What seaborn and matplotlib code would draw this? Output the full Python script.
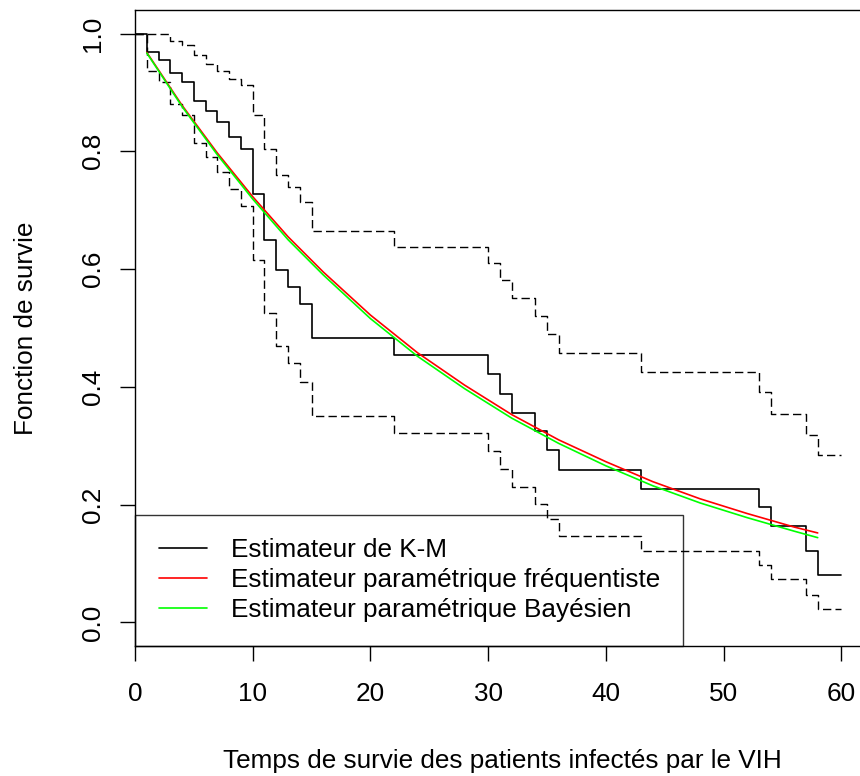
import matplotlib
matplotlib.use("Agg")
import matplotlib.pyplot as plt
from matplotlib.lines import Line2D
import seaborn as sns
import pandas as pd

# ---- data ----
km_time = [0, 1, 2, 3, 4, 5, 6, 7, 8, 9, 10, 11, 12, 13, 14, 15, 22, 30, 31,
           32, 34, 35, 36, 43, 53, 54, 57, 58, 60]
km_surv = [1.0, 0.968, 0.955, 0.933, 0.917, 0.886, 0.869, 0.849, 0.824, 0.804,
           0.728, 0.650, 0.599, 0.569, 0.540, 0.483, 0.454, 0.422, 0.388, 0.356,
           0.325, 0.293, 0.259, 0.226, 0.196, 0.164, 0.121, 0.080, 0.080]
km_upper = [1.0, 1.0, 1.0, 0.987, 0.981, 0.963, 0.949, 0.936, 0.923, 0.912,
            0.861, 0.804, 0.759, 0.739, 0.714, 0.665, 0.638, 0.610, 0.581, 0.551,
            0.520, 0.489, 0.457, 0.425, 0.391, 0.354, 0.319, 0.285, 0.285]
km_lower = [1.0, 0.937, 0.917, 0.880, 0.861, 0.815, 0.790, 0.765, 0.736, 0.708,
            0.616, 0.526, 0.469, 0.440, 0.409, 0.350, 0.321, 0.291, 0.261, 0.230,
            0.201, 0.176, 0.146, 0.121, 0.097, 0.074, 0.046, 0.023, 0.023]

par_time = [1, 4, 7, 10, 13, 16, 20, 24, 28, 32, 36, 40, 44, 48, 52, 56, 58]
freq_surv = [0.968, 0.878, 0.797, 0.723, 0.655, 0.595, 0.522, 0.458, 0.403,
             0.353, 0.310, 0.273, 0.239, 0.210, 0.185, 0.162, 0.152]
bayes_surv = [0.967, 0.876, 0.794, 0.719, 0.650, 0.590, 0.516, 0.452, 0.397,
              0.347, 0.304, 0.266, 0.232, 0.203, 0.178, 0.155, 0.144]

legend_labels = ["Estimateur de K-M",
                 "Estimateur paramétrique fréquentiste",
                 "Estimateur paramétrique Bayésien"]
x_ticks = [0, 10, 20, 30, 40, 50, 60]
y_ticks = [0.0, 0.2, 0.4, 0.6, 0.8, 1.0]
y_ticklabels = ["0.0", "0.2", "0.4", "0.6", "0.8", "1.0"]
xlabel = "Temps de survie des patients infectés par le VIH"
ylabel = "Fonction de survie"

km_df = pd.DataFrame({"t": km_time, "S": km_surv, "up": km_upper, "lo": km_lower})
par_df = pd.DataFrame({"t": par_time, "freq": freq_surv, "bayes": bayes_surv})

# ---- style ----
sns.set_theme(style="ticks")
plt.rcParams["font.family"] = ["Liberation Sans", "DejaVu Sans"]
plt.rcParams["text.color"] = "black"
plt.rcParams["axes.labelcolor"] = "black"
FS = 18.8

fig = plt.figure(figsize=(8.6, 7.76), dpi=100)
fig.patch.set_facecolor("white")
ax = fig.add_axes([135 / 860, 130 / 776, 734.5 / 860, 636 / 776])
ax.set_facecolor("white")

lw = 1.2
sns.lineplot(data=km_df, x="t", y="up", ax=ax, color="black", lw=1.0,
             drawstyle="steps-post", estimator=None, linestyle=(0, (6, 3)))
sns.lineplot(data=km_df, x="t", y="lo", ax=ax, color="black", lw=1.0,
             drawstyle="steps-post", estimator=None, linestyle=(0, (6, 3)))
sns.lineplot(data=km_df, x="t", y="S", ax=ax, color="black", lw=lw,
             drawstyle="steps-post", estimator=None)
sns.lineplot(data=par_df, x="t", y="freq", ax=ax, color="#ff0000", lw=lw,
             estimator=None)
sns.lineplot(data=par_df, x="t", y="bayes", ax=ax, color="#00ff00", lw=lw,
             estimator=None)

ax.set_xlim(0, 62.4)
ax.set_ylim(-0.04, 1.04)
ax.set_xticks(x_ticks)
ax.set_xticklabels([str(v) for v in x_ticks])
ax.set_yticks(y_ticks)
ax.set_yticklabels(y_ticklabels, rotation=90, va="center")

for s in ax.spines.values():
    s.set_visible(True)
    s.set_color("black")
    s.set_linewidth(1.0)

ax.tick_params(axis="both", direction="out", length=10.8, width=1.0,
               colors="black", labelsize=FS)
ax.tick_params(axis="x", pad=15)
ax.tick_params(axis="y", pad=11)

ax.set_xlabel(xlabel, fontsize=FS, color="black")
ax.set_ylabel(ylabel, fontsize=FS, color="black")
ax.xaxis.set_label_coords(0.5, -0.162)
ax.yaxis.set_label_coords(-0.132, 0.5)

handles = [Line2D([], [], color="black", lw=lw),
           Line2D([], [], color="#ff0000", lw=lw),
           Line2D([], [], color="#00ff00", lw=lw)]
leg = ax.legend(handles, legend_labels, loc="lower left", bbox_to_anchor=(0, 0),
                borderaxespad=0, fontsize=FS, frameon=True, fancybox=False,
                handlelength=1.84, handletextpad=0.92, borderpad=0.9,
                labelspacing=0.23)
leg.get_frame().set_edgecolor("black")
leg.get_frame().set_linewidth(1.0)
leg.get_frame().set_facecolor("none")
for t in leg.get_texts():
    t.set_color("black")

fig.savefig("out.png", dpi=100)
